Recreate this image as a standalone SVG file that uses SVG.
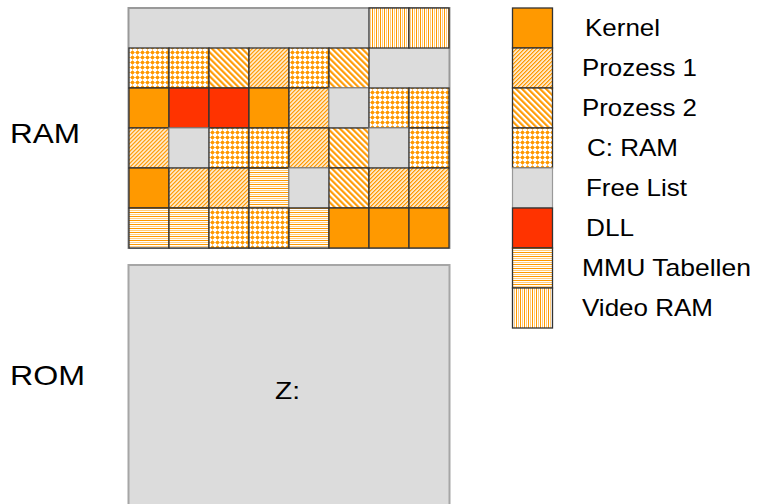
<svg xmlns="http://www.w3.org/2000/svg" width="763" height="504" viewBox="0 0 763 504">
  <style>
    .lbl { font-family: "Liberation Sans", Arial, sans-serif; fill: #000; }
    .big { font-size: 28px; }
    .leg { font-size: 24px; }
    .cell { stroke: #333; stroke-width: 1.3; }
    .free { fill: #dcdcdc; stroke: #999; stroke-width: 1.2; }
    .kernel { fill: #ff9900; }
    .dll { fill: #ff3300; }
    .p1 { fill: url(#pat-p1); }
    .p2 { fill: url(#pat-p2); }
    .cram { fill: url(#pat-cram); }
    .mmu { fill: url(#pat-mmu); }
    .video { fill: url(#pat-video); }
  </style>
  <defs>
    <!-- Prozess 1: dense "/" hatching -->
    <pattern id="pat-p1" width="2.83" height="2.83" patternUnits="userSpaceOnUse" patternTransform="rotate(45)">
      <rect width="2.83" height="2.83" fill="#fff"/>
      <rect width="1.4" height="2.83" fill="#ff9900"/>
    </pattern>
    <!-- Prozess 2: wider "\" hatching -->
    <pattern id="pat-p2" width="4.24" height="4.24" patternUnits="userSpaceOnUse" patternTransform="rotate(-45)">
      <rect width="4.24" height="4.24" fill="#fff"/>
      <rect width="2.1" height="4.24" fill="#ff9900"/>
    </pattern>
    <!-- C: RAM: dotted plaid -->
    <pattern id="pat-cram" width="5" height="5" patternUnits="userSpaceOnUse">
      <rect width="5" height="5" fill="#fff"/>
      <rect x="0" y="2" width="5" height="1" fill="#ffcc80"/>
      <rect x="2" y="0" width="1" height="5" fill="#ffcc80"/>
      <circle cx="2.5" cy="2.5" r="1.8" fill="#ff9900"/>
    </pattern>
    <!-- MMU Tabellen: horizontal lines -->
    <pattern id="pat-mmu" width="4" height="4" patternUnits="userSpaceOnUse">
      <rect width="4" height="4" fill="#fff"/>
      <rect y="0" width="4" height="1" fill="#ff9900"/>
      <rect y="2" width="4" height="1" fill="#ffcc80"/>
    </pattern>
    <!-- Video RAM: vertical lines -->
    <pattern id="pat-video" width="4" height="4" patternUnits="userSpaceOnUse">
      <rect width="4" height="4" fill="#fff"/>
      <rect x="0" width="1" height="4" fill="#ff9900"/>
      <rect x="2" width="1" height="4" fill="#ffcc80"/>
    </pattern>
  </defs>

  <!-- side labels -->
  <text class="lbl big" x="10" y="143" textLength="70" lengthAdjust="spacingAndGlyphs">RAM</text>
  <text class="lbl big" x="10" y="385" textLength="75" lengthAdjust="spacingAndGlyphs">ROM</text>

  <!-- RAM map -->
  <g id="ram">
    <rect x="128.5" y="8" width="321" height="240" fill="#dcdcdc" stroke="#999" stroke-width="2"/>
    <!-- row 0 -->
    <rect class="video cell" x="369" y="8" width="40" height="40"/>
    <rect class="video cell" x="409" y="8" width="40" height="40"/>
    <!-- row 1 -->
    <rect class="cram cell" x="129" y="48" width="40" height="40"/>
    <rect class="cram cell" x="169" y="48" width="40" height="40"/>
    <rect class="p2 cell" x="209" y="48" width="40" height="40"/>
    <rect class="p1 cell" x="249" y="48" width="40" height="40"/>
    <rect class="cram cell" x="289" y="48" width="40" height="40"/>
    <rect class="p2 cell" x="329" y="48" width="40" height="40"/>
    <!-- row 2 -->
    <rect class="kernel cell" x="129" y="88" width="40" height="40"/>
    <rect class="dll cell" x="169" y="88" width="40" height="40"/>
    <rect class="dll cell" x="209" y="88" width="40" height="40"/>
    <rect class="kernel cell" x="249" y="88" width="40" height="40"/>
    <rect class="p1 cell" x="289" y="88" width="40" height="40"/>
    <rect class="free" x="329" y="88" width="40" height="40"/>
    <rect class="cram cell" x="369" y="88" width="40" height="40"/>
    <rect class="cram cell" x="409" y="88" width="40" height="40"/>
    <!-- row 3 -->
    <rect class="p1 cell" x="129" y="128" width="40" height="40"/>
    <rect class="free" x="169" y="128" width="40" height="40"/>
    <rect class="cram cell" x="209" y="128" width="40" height="40"/>
    <rect class="cram cell" x="249" y="128" width="40" height="40"/>
    <rect class="p1 cell" x="289" y="128" width="40" height="40"/>
    <rect class="p2 cell" x="329" y="128" width="40" height="40"/>
    <rect class="free" x="369" y="128" width="40" height="40"/>
    <rect class="cram cell" x="409" y="128" width="40" height="40"/>
    <!-- row 4 -->
    <rect class="kernel cell" x="129" y="168" width="40" height="40"/>
    <rect class="p1 cell" x="169" y="168" width="40" height="40"/>
    <rect class="p1 cell" x="209" y="168" width="40" height="40"/>
    <rect class="mmu cell" x="249" y="168" width="40" height="40"/>
    <rect class="free" x="289" y="168" width="40" height="40"/>
    <rect class="p2 cell" x="329" y="168" width="40" height="40"/>
    <rect class="p1 cell" x="369" y="168" width="40" height="40"/>
    <rect class="p1 cell" x="409" y="168" width="40" height="40"/>
    <!-- row 5 -->
    <rect class="mmu cell" x="129" y="208" width="40" height="40"/>
    <rect class="mmu cell" x="169" y="208" width="40" height="40"/>
    <rect class="cram cell" x="209" y="208" width="40" height="40"/>
    <rect class="cram cell" x="249" y="208" width="40" height="40"/>
    <rect class="mmu cell" x="289" y="208" width="40" height="40"/>
    <rect class="kernel cell" x="329" y="208" width="40" height="40"/>
    <rect class="kernel cell" x="369" y="208" width="40" height="40"/>
    <rect class="kernel cell" x="409" y="208" width="40" height="40"/>
  </g>

  <!-- ROM block -->
  <g id="rom">
    <rect x="128.5" y="265" width="321" height="250" fill="#dcdcdc" stroke="#a6a6a6" stroke-width="2"/>
    <text class="lbl leg" x="275" y="399" textLength="25" lengthAdjust="spacingAndGlyphs">Z:</text>
  </g>

  <!-- legend -->
  <g id="legend">
    <rect class="kernel cell" x="512.5" y="8" width="40" height="40"/>
    <rect class="p1 cell" x="512.5" y="48" width="40" height="40"/>
    <rect class="p2 cell" x="512.5" y="88" width="40" height="40"/>
    <rect class="cram cell" x="512.5" y="128" width="40" height="40"/>
    <rect class="free" x="512.5" y="168" width="40" height="40"/>
    <rect class="dll cell" x="512.5" y="208" width="40" height="40"/>
    <rect class="mmu cell" x="512.5" y="248" width="40" height="40"/>
    <rect class="video cell" x="512.5" y="288" width="40" height="40"/>
    <text class="lbl leg" x="585" y="36" textLength="75" lengthAdjust="spacingAndGlyphs">Kernel</text>
    <text class="lbl leg" x="582" y="76" textLength="115" lengthAdjust="spacingAndGlyphs">Prozess 1</text>
    <text class="lbl leg" x="582" y="116" textLength="115" lengthAdjust="spacingAndGlyphs">Prozess 2</text>
    <text class="lbl leg" x="587" y="156" textLength="91" lengthAdjust="spacingAndGlyphs">C: RAM</text>
    <text class="lbl leg" x="586" y="196" textLength="101" lengthAdjust="spacingAndGlyphs">Free List</text>
    <text class="lbl leg" x="586" y="236" textLength="48" lengthAdjust="spacingAndGlyphs">DLL</text>
    <text class="lbl leg" x="582" y="276" textLength="169" lengthAdjust="spacingAndGlyphs">MMU Tabellen</text>
    <text class="lbl leg" x="582" y="316" textLength="131" lengthAdjust="spacingAndGlyphs">Video RAM</text>
  </g>
</svg>
